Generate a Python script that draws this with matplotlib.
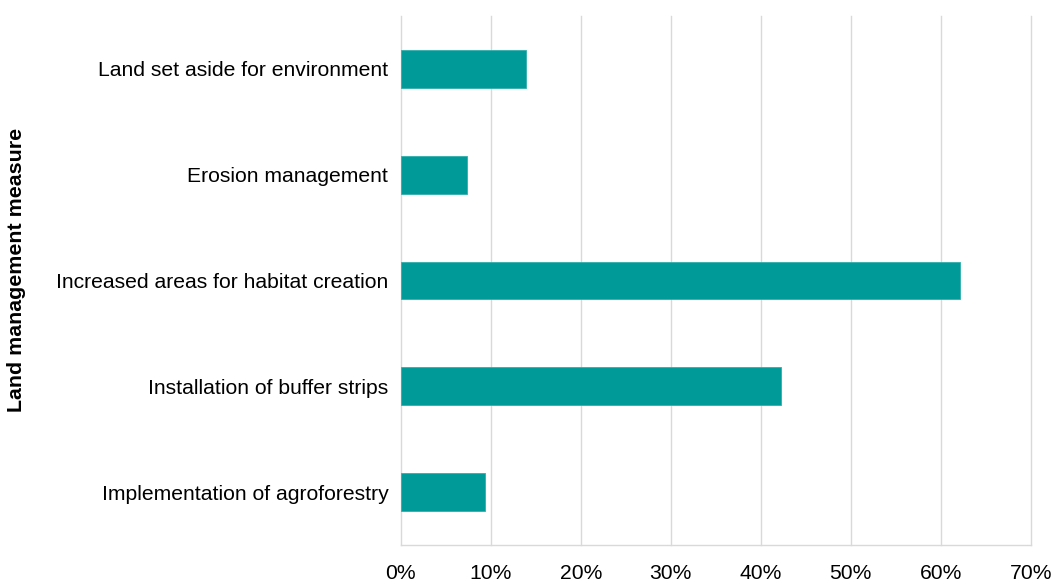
import matplotlib
matplotlib.use("Agg")
import matplotlib.pyplot as plt
from matplotlib.ticker import FuncFormatter, MultipleLocator

plt.rcParams['font.family'] = ['Liberation Sans', 'DejaVu Sans']

measures = [
    "Implementation of agroforestry",
    "Installation of buffer strips",
    "Increased areas for habitat creation",
    "Erosion management",
    "Land set aside for environment",
]
shares = [0.094, 0.423, 0.621, 0.074, 0.139]

fig = plt.figure(figsize=(10.56, 5.84), dpi=100)
ax = fig.add_axes([0.3795, 0.0668, 0.5965, 0.9058])

ax.barh(range(len(measures)), shares, height=0.356, color="#009B98",
        edgecolor="#2FAFAB", linewidth=0.6, zorder=3)

ax.set_xlim(0, 0.70)
ax.set_ylim(-0.5, len(measures) - 0.5)
ax.xaxis.set_major_locator(MultipleLocator(0.10))
ax.xaxis.set_major_formatter(FuncFormatter(lambda v, _: f"{v * 100:.0f}%"))
ax.set_yticks(range(len(measures)))
ax.set_yticklabels(measures)

ax.grid(axis="x", color="#D9D9D9", linewidth=1.0, zorder=0)
for gl in ax.get_xgridlines():
    gl.set_clip_on(False)
for side in ("top", "right", "left"):
    ax.spines[side].set_visible(False)
ax.spines["bottom"].set_color("#D9D9D9")
ax.spines["bottom"].set_linewidth(1.0)
ax.tick_params(axis="both", length=0, labelsize=15.2, colors="#000000")
ax.tick_params(axis="x", pad=14)
ax.tick_params(axis="y", pad=9)

fig.text(17 / 1056, 1 - 270 / 584, "Land management measure", rotation=90,
         ha="center", va="center", fontsize=15.4, fontweight="bold")

fig.savefig("out.png", dpi=100)
